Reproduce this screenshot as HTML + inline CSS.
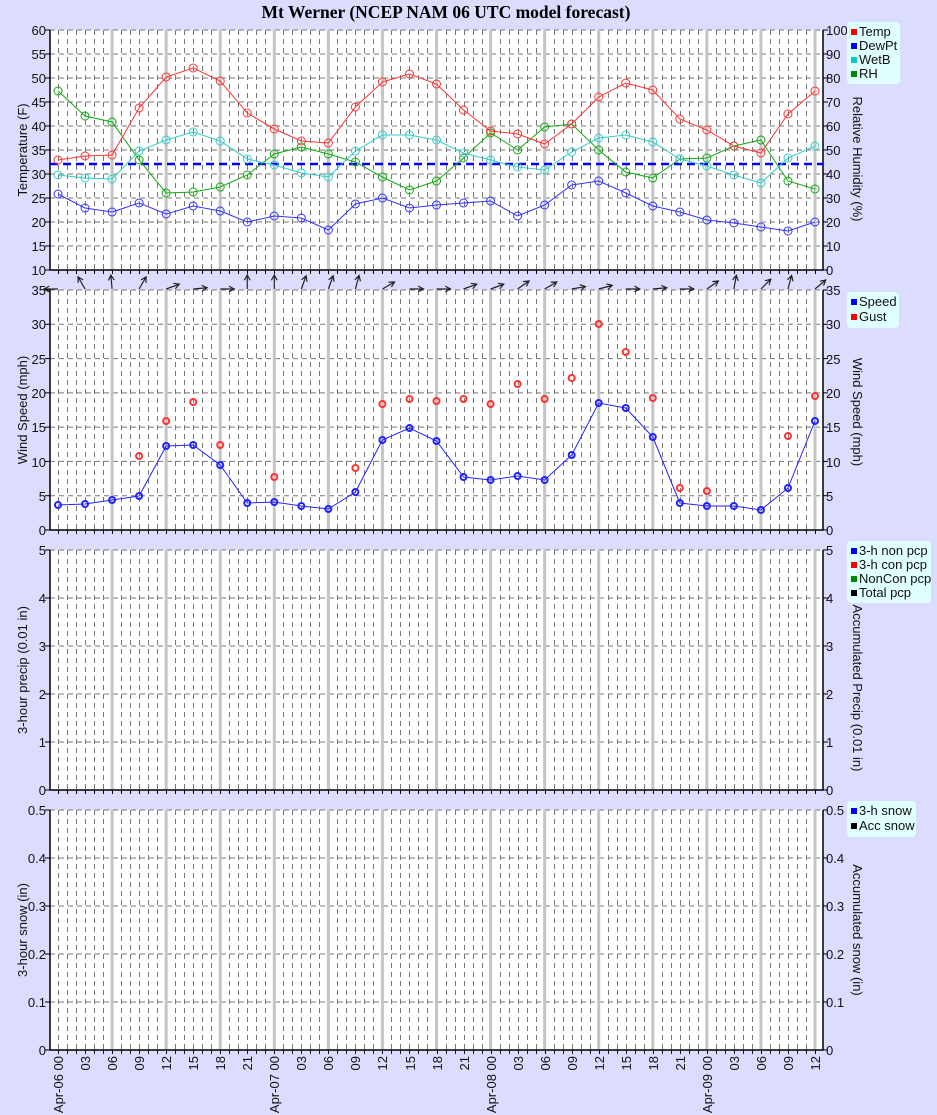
<!DOCTYPE html>
<html><head><meta charset="utf-8"><style>
html,body{margin:0;padding:0;background:#dcdcfe;}
svg{display:block;font-family:"Liberation Sans",sans-serif;}
.t{font-size:13px;fill:#111;}
.r{text-anchor:end;}
</style></head><body>
<svg id="s" width="937" height="1115" xmlns="http://www.w3.org/2000/svg">
<rect width="937" height="1115" fill="#dcdcfe"/>
<g id="geo"></g>
<text x="446" y="18" text-anchor="middle" font-family="Liberation Serif,serif" font-weight="bold" font-size="17.5">Mt Werner (NCEP NAM 06 UTC model forecast)</text>
<g class="t r">
<text x="46" y="35">60</text><text x="46" y="59">55</text><text x="46" y="83">50</text><text x="46" y="107">45</text><text x="46" y="131">40</text><text x="46" y="155">35</text><text x="46" y="179">30</text><text x="46" y="203">25</text><text x="46" y="227">20</text><text x="46" y="251">15</text><text x="46" y="275">10</text>
<text x="46" y="295">35</text><text x="46" y="329">30</text><text x="46" y="364">25</text><text x="46" y="398">20</text><text x="46" y="432">15</text><text x="46" y="467">10</text><text x="46" y="501">5</text><text x="46" y="535">0</text>
<text x="46" y="555">5</text><text x="46" y="603">4</text><text x="46" y="651">3</text><text x="46" y="699">2</text><text x="46" y="747">1</text><text x="46" y="795">0</text>
<text x="46" y="815">0.5</text><text x="46" y="863">0.4</text><text x="46" y="911">0.3</text><text x="46" y="959">0.2</text><text x="46" y="1007">0.1</text><text x="46" y="1055">0</text>
</g>
<g class="t">
<text x="826" y="35">100</text><text x="826" y="59">90</text><text x="826" y="83">80</text><text x="826" y="107">70</text><text x="826" y="131">60</text><text x="826" y="155">50</text><text x="826" y="179">40</text><text x="826" y="203">30</text><text x="826" y="227">20</text><text x="826" y="251">10</text><text x="826" y="275">0</text>
<text x="826" y="295">35</text><text x="826" y="329">30</text><text x="826" y="364">25</text><text x="826" y="398">20</text><text x="826" y="432">15</text><text x="826" y="467">10</text><text x="826" y="501">5</text><text x="826" y="535">0</text>
<text x="826" y="555">5</text><text x="826" y="603">4</text><text x="826" y="651">3</text><text x="826" y="699">2</text><text x="826" y="747">1</text><text x="826" y="795">0</text>
<text x="826" y="815">0.5</text><text x="826" y="863">0.4</text><text x="826" y="911">0.3</text><text x="826" y="959">0.2</text><text x="826" y="1007">0.1</text><text x="826" y="1055">0</text>
</g>
<g class="t" text-anchor="middle">
<text transform="translate(27,150) rotate(-90)">Temperature (F)</text>
<text transform="translate(27,410) rotate(-90)">Wind Speed (mph)</text>
<text transform="translate(27,670) rotate(-90)">3-hour precip (0.01 in)</text>
<text transform="translate(27,930) rotate(-90)">3-hour snow (in)</text>
<text transform="translate(853,159) rotate(90)">Relative Humidity (%)</text>
<text transform="translate(853,412) rotate(90)">Wind Speed (mph)</text>
<text transform="translate(853,688) rotate(90)">Accumulated Precip (0.01 in)</text>
<text transform="translate(853,930) rotate(90)">Accumulated snow (in)</text>
</g>
<g class="t r">
<text transform="translate(63,1056) rotate(-90)">Apr-06 00</text>
<text transform="translate(90,1056) rotate(-90)">03</text>
<text transform="translate(117,1056) rotate(-90)">06</text>
<text transform="translate(144,1056) rotate(-90)">09</text>
<text transform="translate(171,1056) rotate(-90)">12</text>
<text transform="translate(198,1056) rotate(-90)">15</text>
<text transform="translate(225,1056) rotate(-90)">18</text>
<text transform="translate(252,1056) rotate(-90)">21</text>
<text transform="translate(279,1056) rotate(-90)">Apr-07 00</text>
<text transform="translate(306,1056) rotate(-90)">03</text>
<text transform="translate(333,1056) rotate(-90)">06</text>
<text transform="translate(360,1056) rotate(-90)">09</text>
<text transform="translate(387,1056) rotate(-90)">12</text>
<text transform="translate(415,1056) rotate(-90)">15</text>
<text transform="translate(442,1056) rotate(-90)">18</text>
<text transform="translate(469,1056) rotate(-90)">21</text>
<text transform="translate(496,1056) rotate(-90)">Apr-08 00</text>
<text transform="translate(523,1056) rotate(-90)">03</text>
<text transform="translate(550,1056) rotate(-90)">06</text>
<text transform="translate(577,1056) rotate(-90)">09</text>
<text transform="translate(604,1056) rotate(-90)">12</text>
<text transform="translate(631,1056) rotate(-90)">15</text>
<text transform="translate(658,1056) rotate(-90)">18</text>
<text transform="translate(685,1056) rotate(-90)">21</text>
<text transform="translate(712,1056) rotate(-90)">Apr-09 00</text>
<text transform="translate(739,1056) rotate(-90)">03</text>
<text transform="translate(766,1056) rotate(-90)">06</text>
<text transform="translate(793,1056) rotate(-90)">09</text>
<text transform="translate(820,1056) rotate(-90)">12</text>
</g>
<rect x="847" y="22" width="53" height="62" rx="4" fill="#e0ffff"/>
<rect x="851" y="29" width="6" height="6" fill="#f00"/><rect x="851" y="43" width="6" height="6" fill="#00f"/><rect x="851" y="57" width="6" height="6" fill="#0cc"/><rect x="851" y="71" width="6" height="6" fill="#080"/>
<g class="t" font-size="12.5"><text x="859" y="36">Temp</text><text x="859" y="50">DewPt</text><text x="859" y="64">WetB</text><text x="859" y="78">RH</text></g>
<rect x="847" y="292" width="52" height="36" rx="4" fill="#e0ffff"/>
<rect x="851" y="299" width="6" height="6" fill="#00f"/><rect x="851" y="314" width="6" height="6" fill="#f00"/>
<g class="t" font-size="12.5"><text x="859" y="306">Speed</text><text x="859" y="321">Gust</text></g>
<rect x="847" y="541" width="84" height="62" rx="4" fill="#e0ffff"/>
<rect x="851" y="548" width="6" height="6" fill="#00f"/><rect x="851" y="562" width="6" height="6" fill="#f00"/><rect x="851" y="576" width="6" height="6" fill="#080"/><rect x="851" y="590" width="6" height="6" fill="#000"/>
<g class="t" font-size="12.5"><text x="859" y="555">3-h non pcp</text><text x="859" y="569">3-h con pcp</text><text x="859" y="583">NonCon pcp</text><text x="859" y="597">Total pcp</text></g>
<rect x="847" y="801" width="69" height="36" rx="4" fill="#e0ffff"/>
<rect x="851" y="808" width="6" height="6" fill="#00f"/><rect x="851" y="823" width="6" height="6" fill="#000"/>
<g class="t" font-size="12.5"><text x="859" y="815">3-h snow</text><text x="859" y="830">Acc snow</text></g>
</svg>
<script>
var g=document.getElementById('geo'),NS='http://www.w3.org/2000/svg';
function el(n,a){var e=document.createElementNS(NS,n);for(var k in a)e.setAttribute(k,a[k]);g.appendChild(e);return e;}
function X(i){return 58+27.036*i;}
var panels=[[30,270,10],[290,530,7],[550,790,5],[810,1050,5]];
panels.forEach(function(p){
  var t=p[0],b=p[1],n=p[2];
  el('rect',{x:50,y:t,width:773,height:b-t,fill:'#fff'});
  for(var h=0;h<=84;h++){var x=Math.round(58+h*9.012)+0.5;
    el('line',{x1:x,x2:x,y1:t,y2:b,stroke:'#777','stroke-dasharray':'5,4','stroke-width':1});
    el('line',{x1:x,x2:x,y1:b,y2:b+4,stroke:'#000'});}
  for(var k=0;k<=n;k++){var y=t+(b-t)*k/n;
    el('line',{x1:50,x2:823,y1:y,y2:y,stroke:'#777','stroke-dasharray':'5,4'});
    el('line',{x1:45,x2:50,y1:y,y2:y,stroke:'#000'});el('line',{x1:823,x2:828,y1:y,y2:y,stroke:'#000'});}
  for(var i=2;i<=28;i+=2)el('line',{x1:X(i),x2:X(i),y1:t,y2:b,stroke:'#c4c4c4','stroke-width':3});
  el('path',{d:'M50 '+t+'V'+b+'H823V'+t,fill:'none',stroke:'#000','stroke-width':1.5});
});
el('line',{x1:50,x2:823,y1:164,y2:164,stroke:'#00f','stroke-width':2.5,'stroke-dasharray':'8,5'});
function series(ys,col,r,sw,line){
  if(line)el('polyline',{points:ys.map(function(y,i){return X(i)+','+y}).join(' '),fill:'none',stroke:col,'stroke-width':1});
  ys.forEach(function(y,i){if(y!=null)el('circle',{cx:X(i),cy:y,r:r,fill:'none',stroke:col,'stroke-width':sw});});
}
series([194,208,212,203,214,206,211,222,216,218,230,204,198,208,205,203,201,216,205,185,181,193,206,212,220,223,227,231,222],'#33f',4,1,1);
series([91,116,122,160,193,192,187,175,154,147,154,162,177,190,181,158,133,150,127,124,150,172,178,159,158,146,140,181,189],'#1a1',4,1,1);
series([175,178,179,151,140,132,141,159,165,173,177,151,135,135,140,153,160,167,170,152,138,135,142,159,166,175,183,158,146],'#3cc',4,1,1);
series([160,156,155,108,77,68,81,113,129,141,143,107,82,74,84,110,131,134,144,124,97,83,90,119,130,146,153,114,91],'#f33',4,1,1);
series([505,504,500,496,446,445,465,503,502,506,509,492,440,428,441,477,480,476,480,455,403,408,437,503,506,506,510,488,421],'#22f',3,2,1);
var gu=[null,null,null,456,421,402,445,null,477,null,null,468,404,399,401,399,404,384,399,378,324,352,398,488,491,null,null,436,396];
gu.forEach(function(y,i){if(y!=null)el('circle',{cx:X(i),cy:y,r:3,fill:'none',stroke:'#f33','stroke-width':2});});
var ang=[180,120,95,60,20,5,0,90,90,70,70,75,30,0,0,20,20,35,30,10,15,0,5,0,35,80,45,75,40];
ang.forEach(function(a,i){var x=X(i),y=289,r=a*Math.PI/180,L=14,x2=x+L*Math.cos(r),y2=y-L*Math.sin(r);
  var h1=r+Math.PI-0.5,h2=r+Math.PI+0.5;
  el('path',{d:'M'+x+' '+y+'L'+x2+' '+y2+'M'+(x2+6*Math.cos(h1))+' '+(y2-6*Math.sin(h1))+'L'+x2+' '+y2+'L'+(x2+6*Math.cos(h2))+' '+(y2-6*Math.sin(h2)),fill:'none',stroke:'#222','stroke-width':1.2});});
</script>
</body></html>
